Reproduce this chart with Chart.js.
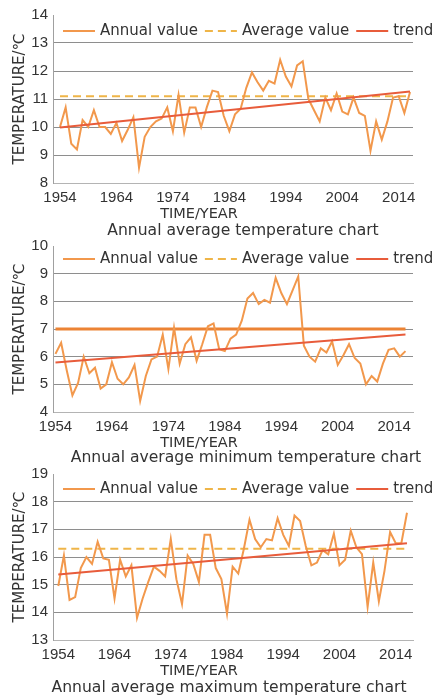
<!DOCTYPE html>
<html>
<head>
<meta charset="utf-8">
<script src="https://cdn.jsdelivr.net/npm/chart.js@4.4.0/dist/chart.umd.min.js"></script>
<style>
  body { margin: 0; background: #fff; width: 440px; height: 697px; overflow: hidden; position: relative; }
  canvas { position: absolute; left: 0; }
</style>
</head>
<body>
<canvas id="meanChart" width="440" height="240" style="top:0"></canvas>
<canvas id="minChart" width="440" height="237" style="top:232px"></canvas>
<canvas id="maxChart" width="440" height="237" style="top:460px"></canvas>
<script>
// temperature charts, 1954-2016

const YEARS = [1954, 1955, 1956, 1957, 1958, 1959, 1960, 1961, 1962, 1963,
  1964, 1965, 1966, 1967, 1968, 1969, 1970, 1971, 1972, 1973,
  1974, 1975, 1976, 1977, 1978, 1979, 1980, 1981, 1982, 1983,
  1984, 1985, 1986, 1987, 1988, 1989, 1990, 1991, 1992, 1993,
  1994, 1995, 1996, 1997, 1998, 1999, 2000, 2001, 2002, 2003,
  2004, 2005, 2006, 2007, 2008, 2009, 2010, 2011, 2012, 2013,
  2014, 2015, 2016];
const TICK_YEARS = [1954, 1964, 1974, 1984, 1994, 2004, 2014];

const MEAN_TEMP = [10.0, 10.7, 9.4, 9.2, 10.25, 10.0, 10.6, 10.0, 10.0, 9.75,
  10.15, 9.5, 9.9, 10.35, 8.55, 9.65, 10.0, 10.2, 10.3, 10.7,
  9.85, 11.15, 9.8, 10.7, 10.7, 10.0, 10.7, 11.3, 11.25, 10.4,
  9.85, 10.45, 10.65, 11.4, 11.95, 11.6, 11.3, 11.65, 11.55, 12.4,
  11.8, 11.45, 12.2, 12.35, 11.0, 10.6, 10.2, 11.05, 10.6, 11.2,
  10.55, 10.45, 11.05, 10.5, 10.4, 9.15, 10.2, 9.55, 10.2, 11.05,
  11.1, 10.5, 11.25];
const MIN_TEMP = [6.1, 6.5, 5.5, 4.6, 5.05, 6.0, 5.4, 5.6, 4.85, 5.0,
  5.8, 5.2, 5.0, 5.25, 5.7, 4.4, 5.3, 5.9, 6.0, 6.8,
  5.55, 7.05, 5.75, 6.45, 6.7, 5.85, 6.45, 7.1, 7.2, 6.27,
  6.2, 6.65, 6.8, 7.3, 8.1, 8.3, 7.9, 8.05, 7.95, 8.85,
  8.3, 7.9, 8.4, 8.9, 6.4, 6.0, 5.82, 6.3, 6.15, 6.55,
  5.7, 6.05, 6.45, 5.95, 5.75, 5.0, 5.3, 5.1, 5.75, 6.25,
  6.3, 6.0, 6.2];
const MAX_TEMP = [14.95, 16.05, 14.45, 14.55, 15.6, 16.0, 15.75, 16.55, 15.95, 15.9,
  14.5, 15.9, 15.3, 15.7, 13.8, 14.5, 15.1, 15.65, 15.5, 15.3,
  16.65, 15.2, 14.3, 16.05, 15.75, 15.1, 16.8, 16.8, 15.6, 15.2,
  13.95, 15.65, 15.4, 16.3, 17.35, 16.65, 16.35, 16.65, 16.6, 17.4,
  16.8, 16.4, 17.5, 17.3, 16.4, 15.7, 15.8, 16.25, 16.1, 16.85,
  15.7, 15.9, 16.95, 16.35, 16.1, 14.2, 15.8, 14.4, 15.5, 16.9,
  16.5, 16.5, 17.6];

// average value and trend (start, end)
const MEAN_AVG = 11.1, MIN_AVG = 7.0, MAX_AVG = 16.3;
const MEAN_TREND = [9.98, 11.27];
const MIN_TREND = [5.79, 6.8];
const MAX_TREND = [15.37, 16.5];

const LEGEND_LABELS = ['Annual value', 'Average value', 'trend'];
const X_TITLE = 'TIME/YEAR';
const Y_TITLE = 'TEMPERATURE/℃';

const ANNUAL_COLOR = '#f2984c';
const AVG_COLOR = '#efb548';
const AVG_SOLID = '#ec8334';
const TREND_COLOR = '#e85c3b';
const LEGEND_COLORS = [ANNUAL_COLOR, AVG_COLOR, TREND_COLOR];
const LEGEND_DASH = [[], [8, 5], []];

const TICK_FONT = { family: 'Liberation Sans', size: 15, lineHeight: 1.2 };
const TEXT_COLOR = '#333';

// legend inside the plot + x title + chart title under the axis (like the original, off-centre)
function chartText(o) {
  return {
    id: 'chartText',
    afterDraw(chart) {
      const { ctx, chartArea } = chart;
      ctx.save();
      ctx.textBaseline = 'middle';

      const y = chartArea.top + o.legendDy;
      let x = 63;
      ctx.font = '15px "DejaVu Sans"';
      LEGEND_LABELS.forEach((label, i) => {
        ctx.strokeStyle = LEGEND_COLORS[i];
        ctx.lineWidth = 2;
        ctx.setLineDash(LEGEND_DASH[i]);
        ctx.beginPath();
        ctx.moveTo(x, y);
        ctx.lineTo(x + 32, y);
        ctx.stroke();
        x += 37;
        ctx.fillStyle = TEXT_COLOR;
        ctx.fillText(label, x, y);
        x += ctx.measureText(label).width + 7;
      });

      ctx.textAlign = 'center';
      ctx.fillStyle = TEXT_COLOR;
      ctx.font = '14.5px "DejaVu Sans"';
      ctx.fillText(X_TITLE, 199, chartArea.bottom + o.xTitleDy);
      ctx.font = '15.6px "DejaVu Sans"';
      ctx.fillText(o.title, o.titleX, chartArea.bottom + o.titleDy);
      ctx.restore();
    }
  };
}

function makeChart(id, o) {
  const first = YEARS[0], last = YEARS[YEARS.length - 1];
  return new Chart(document.getElementById(id), {
    type: 'line',
    data: {
      datasets: [
        { label: 'Annual value', data: o.values.map((v, i) => ({ x: YEARS[i], y: v })),
          borderColor: ANNUAL_COLOR, borderWidth: 2, order: 1 },
        { label: 'Average value', data: [{ x: first, y: o.avg }, { x: last, y: o.avg }],
          borderColor: o.avgColor, borderWidth: o.avgWidth, borderDash: o.avgDash, order: 2 },
        { label: 'trend', data: [{ x: first, y: o.trend[0] }, { x: last, y: o.trend[1] }],
          borderColor: TREND_COLOR, borderWidth: 2, order: 0 }
      ]
    },
    options: {
      responsive: false,
      animation: false,
      devicePixelRatio: 1,
      layout: { padding: { top: o.padTop, right: 27, bottom: o.padBottom, left: 0 } },
      elements: { point: { radius: 0 }, line: { tension: 0 } },
      plugins: {
        legend: { display: false },
        tooltip: { enabled: false },
        title: { display: false }
      },
      scales: {
        x: {
          type: 'linear', min: o.xMin, max: o.xMax,
          grid: { display: false, drawTicks: false },
          border: { color: '#b4b4b4' },
          afterBuildTicks: s => { s.ticks = TICK_YEARS.map(v => ({ value: v })); },
          ticks: { padding: 6, color: TEXT_COLOR, font: TICK_FONT, maxRotation: 0, autoSkip: false,
            callback: v => String(v) }
        },
        y: {
          min: o.yMin, max: o.yMax,
          afterFit: s => { s.width = 53; },
          ticks: { stepSize: 1, padding: 5, color: TEXT_COLOR, font: TICK_FONT },
          grid: { drawTicks: false, color: c => c.tick && c.tick.value === o.yMax ? 'rgba(0,0,0,0)' : '#8e8e8e' },
          border: { color: '#a0a0a0' },
          title: { display: true, text: Y_TITLE, color: TEXT_COLOR,
            font: { family: 'DejaVu Sans', size: 15, lineHeight: 1.1 }, padding: { top: 12, bottom: 0 } }
        }
      }
    },
    plugins: [chartText(o)]
  });
}

document.addEventListener('DOMContentLoaded', () => {
  makeChart('meanChart', {
    values: MEAN_TEMP, avg: MEAN_AVG, trend: MEAN_TREND,
    avgColor: AVG_COLOR, avgWidth: 2, avgDash: [8, 5],
    yMin: 8, yMax: 14, xMin: 1952.76, xMax: 2016.53,
    padTop: 15, padBottom: 27, legendDy: 16,
    xTitleDy: 31, titleDy: 48, titleX: 243,
    title: 'Annual average temperature chart'
  });
  makeChart('minChart', {
    values: MIN_TEMP, avg: MIN_AVG, trend: MIN_TREND,
    avgColor: AVG_SOLID, avgWidth: 3, avgDash: [],
    yMin: 4, yMax: 10, xMin: 1953.56, xMax: 2017.33,
    padTop: 12, padBottom: 27, legendDy: 13,
    xTitleDy: 31, titleDy: 46, titleX: 246,
    title: 'Annual average minimum temperature chart'
  });
  makeChart('maxChart', {
    values: MAX_TEMP, avg: MAX_AVG, trend: MAX_TREND,
    avgColor: AVG_COLOR, avgWidth: 2, avgDash: [8, 5],
    yMin: 13, yMax: 19, xMin: 1953.06, xMax: 2017.07,
    padTop: 10, padBottom: 27, legendDy: 15,
    xTitleDy: 31, titleDy: 48, titleX: 229,
    title: 'Annual average maximum temperature chart'
  });
});
</script>
</body>
</html>
